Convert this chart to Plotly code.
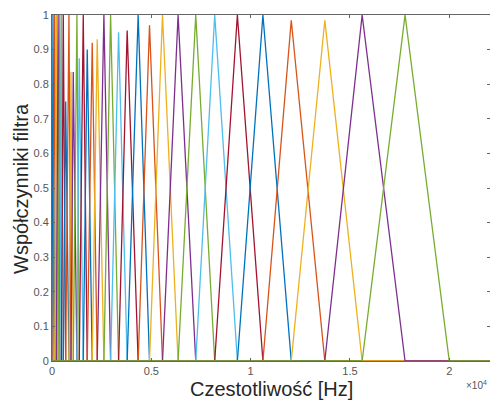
import plotly.graph_objects as go

# Filter peak (centre) frequencies in Hz
peaks_hz = [50, 136, 221, 307, 392, 477, 568, 688, 854, 955, 1070, 1256, 1372,
            1573, 1774, 2025, 2276, 2613, 2950, 3352, 3784, 4337, 4909, 5563,
            6347, 7236, 8191, 9332, 10618, 12045, 13734, 15613, 17774]
# Peak heights of each filter
peak_heights = [1, 1, 1, 1, 1, 1, 1, 0.75, 1, 0.835, 0.835, 1, 0.875,
                1, 0.9, 0.92, 0.93, 1, 1, 0.95, 0.955, 1, 0.97, 1,
                1, 1, 1, 1, 1, 0.985, 0.985, 1, 1]
low_edge_hz = 0
high_edge_hz = 20000
f_max = 22050

x_ticks = [0, 5000, 10000, 15000, 20000]
x_tick_labels = ["0", "0.5", "1", "1.5", "2"]
y_ticks = [0, 0.1, 0.2, 0.3, 0.4, 0.5, 0.6, 0.7, 0.8, 0.9, 1]
y_tick_labels = ["0", "0.1", "0.2", "0.3", "0.4", "0.5", "0.6", "0.7", "0.8", "0.9", "1"]

colors = ["#0072BD", "#D95319", "#EDB120", "#7E2F8E", "#77AC30", "#4DBEEE", "#A2142F"]

edges = [low_edge_hz] + peaks_hz + [high_edge_hz]

fig = go.Figure()
for i, h in enumerate(peak_heights):
    xs = [0, edges[i], edges[i + 1], edges[i + 2], f_max]
    ys = [0, 0, h, 0, 0]
    fig.add_trace(go.Scatter(x=xs, y=ys, mode="lines",
                             line=dict(color=colors[i % 7], width=1.3),
                             hoverinfo="skip", showlegend=False))

axis_color = "#666666"
tick_font = dict(family="Liberation Sans, Arial, sans-serif", size=11, color="#555555")

fig.update_layout(
    width=490, height=401,
    margin=dict(l=52, r=0, t=15, b=40),
    paper_bgcolor="white", plot_bgcolor="white",
    showlegend=False,
    xaxis=dict(range=[0, f_max], tickvals=x_ticks, ticktext=x_tick_labels,
               ticks="inside", ticklen=3, tickcolor=axis_color, mirror="ticks",
               showline=True, linecolor=axis_color, linewidth=1,
               showgrid=False, zeroline=False, tickfont=tick_font),
    yaxis=dict(range=[0, 1], tickvals=y_ticks, ticktext=y_tick_labels,
               ticks="inside", ticklen=3, tickcolor=axis_color, mirror="ticks",
               showline=True, linecolor=axis_color, linewidth=1,
               showgrid=False, zeroline=False, tickfont=tick_font),
    annotations=[
        dict(text="Czestotliwość [Hz]", xref="paper", yref="paper",
             x=0.502, y=-0.081, xanchor="center", yanchor="middle",
             showarrow=False,
             font=dict(family="Liberation Sans, Arial, sans-serif", size=20, color="#262626")),
        dict(text="Współczynniki filtra", xref="paper", yref="paper",
             x=-0.0708, y=0.5, xanchor="center", yanchor="middle",
             textangle=-90, showarrow=False,
             font=dict(family="Liberation Sans, Arial, sans-serif", size=20, color="#262626")),
        dict(text="×10<sup>4</sup>", xref="paper", yref="paper",
             x=0.970, y=-0.0694, xanchor="center", yanchor="middle",
             showarrow=False,
             font=dict(family="Liberation Sans, Arial, sans-serif", size=10, color="#555555")),
    ],
)

fig.write_html("out.html")
